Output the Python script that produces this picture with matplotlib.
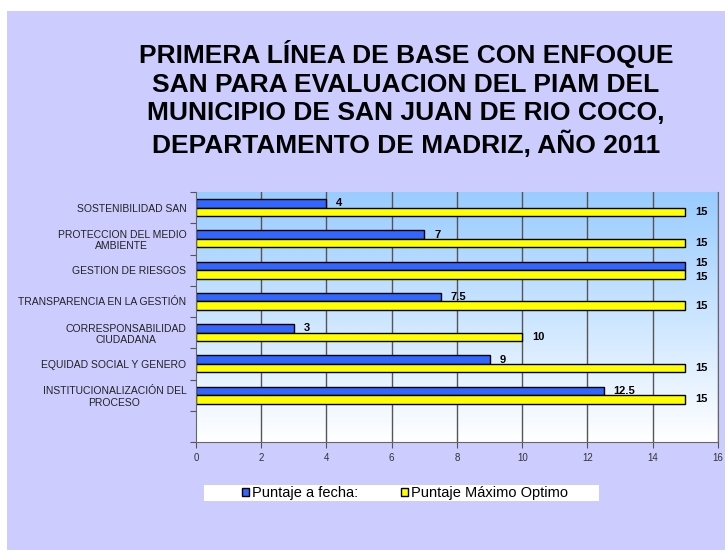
import numpy as np
import matplotlib
matplotlib.use("Agg")
import matplotlib.pyplot as plt
from matplotlib.patches import Patch, Rectangle
from matplotlib.colors import LinearSegmentedColormap

plt.rcParams['font.family'] = ['Liberation Sans', 'DejaVu Sans']

# data
categories = [
    "SOSTENIBILIDAD SAN",
    "PROTECCION DEL MEDIO\nAMBIENTE",
    "GESTION DE RIESGOS",
    "TRANSPARENCIA EN LA GESTIÓN",
    "CORRESPONSABILIDAD\nCIUDADANA",
    "EQUIDAD SOCIAL Y GENERO",
    "INSTITUCIONALIZACIÓN DEL\nPROCESO",
]
puntaje_fecha = [4, 7, 15, 7.5, 3, 9, 12.5]
puntaje_maximo = [15, 15, 15, 15, 10, 15, 15]
series_names = ["Puntaje a fecha:", "Puntaje Máximo Optimo"]
title = ("PRIMERA LÍNEA DE BASE CON ENFOQUE\nSAN PARA EVALUACION DEL PIAM DEL\n"
         "MUNICIPIO DE SAN JUAN DE RIO COCO,\nDEPARTAMENTO DE MADRIZ, AÑO 2011")

W, H = 725, 550
fig = plt.figure(figsize=(W / 100, H / 100), dpi=100)
fig.patch.set_facecolor('white')

# lavender slide background
bg = fig.add_axes([7 / W, 0, 1 - 7 / W, 1 - 11 / H])
bg.set_facecolor('#CCCCFF')
bg.set_xticks([])
bg.set_yticks([])
for s in bg.spines.values():
    s.set_visible(False)

fig.text(406 / W, 1 - 99 / H, title, ha='center', va='center', fontsize=19,
         fontweight='bold', linespacing=1.24, color='black')

ax = fig.add_axes([196 / W, (H - 442) / H, (718 - 196) / W, (442 - 192) / H])
n = len(categories)
ax.set_xlim(0, 16)
ax.set_ylim(n + 0.5, -0.5)

# gradient plot area
grad = LinearSegmentedColormap.from_list('g', ['#99CCFF', '#FFFFFF'])
ax.imshow(np.linspace(0, 1, 256).reshape(-1, 1), cmap=grad, aspect='auto',
          extent=[0, 16, n + 0.5, -0.5], zorder=0)

for x in range(2, 17, 2):
    ax.axvline(x, color='#555555', lw=1, zorder=1)

y = np.arange(n)
h = 0.27
ax.barh(y - h / 2, puntaje_fecha, height=h, color='#3366FF', edgecolor='black',
        lw=1, zorder=2)
ax.barh(y + h / 2, puntaje_maximo, height=h, color='#FFFF00', edgecolor='black',
        lw=1, zorder=2)

for i in range(n):
    # labels of equal length bars sit stacked; spread them a little
    dy = 2 if puntaje_fecha[i] == puntaje_maximo[i] else 0
    ax.annotate(f"{puntaje_fecha[i]:g}", (puntaje_fecha[i], y[i] - h / 2),
                xytext=(7, dy), textcoords='offset points', va='center',
                fontsize=8, fontweight='bold', color='black', zorder=3)
    ax.annotate(f"{puntaje_maximo[i]:g}", (puntaje_maximo[i], y[i] + h / 2),
                xytext=(7, -dy), textcoords='offset points', va='center',
                fontsize=8, fontweight='bold', color='black', zorder=3)

ax.set_yticks(np.arange(-0.5, n + 1))
ax.set_yticklabels([])
ax.tick_params(axis='y', length=4, color='#555555')
ax.set_yticks(y, minor=True)
ax.set_yticklabels(categories, minor=True, fontsize=7.5, color='#222222',
                   multialignment='center')
ax.tick_params(axis='y', which='minor', length=0, pad=7)

ax.set_xticks(range(0, 17, 2))
ax.tick_params(axis='x', length=4, color='#555555', labelsize=7, labelcolor='#333333',
               pad=4)

ax.spines['top'].set_visible(False)
for s in ['left', 'bottom', 'right']:
    ax.spines[s].set_color('#666666')

# legend box
fig.patches.append(Rectangle((204 / W, 1 - 501 / H), 395 / W, 16 / H,
                             transform=fig.transFigure, facecolor='white',
                             edgecolor='none', zorder=1))
handles = [Patch(facecolor='#3366FF', edgecolor='black', lw=1),
           Patch(facecolor='#FFFF00', edgecolor='black', lw=1)]
fig.legend(handles, series_names, ncol=2, loc='center',
           bbox_to_anchor=(405 / W, 1 - 493 / H), fontsize=10.5,
           frameon=False, handlelength=0.5, handleheight=0.5, handletextpad=0.2,
           columnspacing=2.9, borderpad=0.1, borderaxespad=0)

fig.savefig('out.png', dpi=100)
